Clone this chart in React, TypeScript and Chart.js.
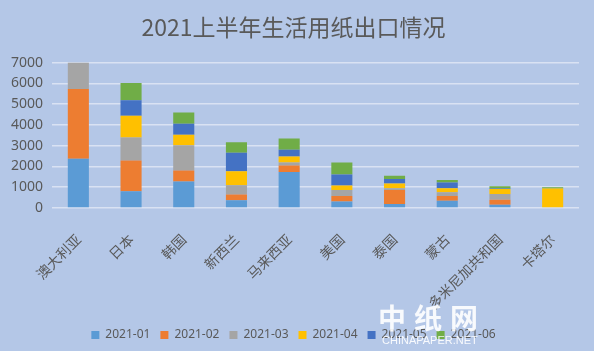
import React, { useEffect, useRef } from "react";
import { Chart, registerables } from "chart.js";

Chart.register(...registerables);

const categories = ["澳大利亚", "日本", "韩国", "新西兰", "马来西亚", "美国", "泰国", "蒙古", "多米尼加共和国", "卡塔尔"];
const seriesNames = ["2021-01", "2021-02", "2021-03", "2021-04", "2021-05", "2021-06"];
const s202101 = [2370, 810, 1270, 370, 1730, 310, 190, 350, 160, 0];
const s202102 = [3360, 1480, 540, 280, 320, 270, 680, 230, 240, 0];
const s202103 = [1270, 1100, 1210, 450, 140, 290, 80, 180, 280, 0];
const s202104 = [0, 1050, 510, 670, 290, 210, 230, 190, 240, 940];
const s202105 = [0, 750, 530, 890, 330, 530, 220, 280, 20, 0];
const s202106 = [0, 830, 540, 500, 530, 580, 150, 120, 110, 60];
const seriesColors = ["#5B9BD5", "#ED7D31", "#A5A5A5", "#FFC000", "#4472C4", "#70AD47"];
const yTicks = [0, 1000, 2000, 3000, 4000, 5000, 6000, 7000];
const titleText = "2021上半年生活用纸出口情况";

export default function App() {
  const ref = useRef<HTMLCanvasElement | null>(null);
  useEffect(() => {
    document.body.style.margin = "0";
    const all = [s202101, s202102, s202103, s202104, s202105, s202106];
    const chart = new Chart(ref.current!, {
      type: "bar",
      data: {
        labels: categories,
        datasets: all.map((d, i) => ({
          label: seriesNames[i],
          data: d,
          backgroundColor: seriesColors[i],
          borderWidth: 0,
          categoryPercentage: 0.8,
          barPercentage: 0.5,
        })),
      },
      options: {
        animation: false,
        responsive: false,
        maintainAspectRatio: false,
        layout: { padding: { left: 8, right: 15, top: 10, bottom: 0 } },
        plugins: {
          title: {
            display: true,
            text: titleText,
            color: "#595959",
            font: { size: 23, family: "'Noto Sans CJK SC', sans-serif", weight: "normal" },
            padding: { top: 3, bottom: 22 },
          },
          legend: {
            position: "bottom",
            labels: {
              color: "#595959",
              font: { size: 12, family: "'Noto Sans', sans-serif" },
              boxWidth: 8,
              boxHeight: 8,
              padding: 10,
            },
          },
          tooltip: { enabled: false },
        },
        scales: {
          x: {
            stacked: true,
            grid: { display: false },
            border: { display: false },
            ticks: {
              color: "#595959",
              font: { size: 14, family: "'Noto Sans CJK SC', sans-serif" },
              maxRotation: 45,
              minRotation: 45,
              padding: 15,
            },
            afterFit: (s: any) => { s.height = 111; },
          },
          y: {
            stacked: true,
            min: 0,
            max: 7000,
            afterBuildTicks: (s: any) => { s.ticks = yTicks.map((v) => ({ value: v })); },
            grid: { color: "#d9e2f3", lineWidth: 1.5, drawTicks: false },
            border: { display: false },
            ticks: {
              color: "#595959",
              font: { size: 14, family: "'Noto Sans', sans-serif" },
              padding: 9,
              callback: (v: any) => String(v),
            },
            afterFit: (s: any) => { s.width = 44; },
          },
        },
      },
    });
    return () => chart.destroy();
  }, []);
  return (
    <div style={{ position: "relative", width: 594, height: 351, background: "#b4c7e7", overflow: "hidden" }}>
      <canvas ref={ref} width={594} height={351} style={{ display: "block" }} />
      <div style={{ position: "absolute", left: 378, top: 300, color: "rgba(255,255,255,0.9)", fontSize: 28, letterSpacing: 8, fontFamily: "'Noto Sans CJK SC', serif", fontWeight: 700, lineHeight: "34px" }}>中纸网</div>
      <div style={{ position: "absolute", left: 382, top: 334, color: "rgba(255,255,255,0.9)", fontSize: 11, fontFamily: "'Liberation Sans', sans-serif", lineHeight: "13px" }}>CHINAPAPER.NET</div>
    </div>
  );
}
